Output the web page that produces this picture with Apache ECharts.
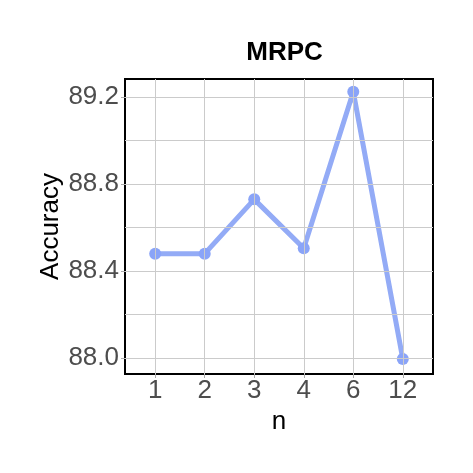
<!DOCTYPE html>
<html>
<head>
<meta charset="utf-8">
<script src="https://cdn.jsdelivr.net/npm/echarts@6/dist/echarts.min.js"></script>
<style>html,body{margin:0;padding:0;background:#fff}#c{width:473px;height:473px}</style>
</head>
<body>
<div id="c"></div>
<script>
const categories = ['1', '2', '3', '4', '6', '12'];
const accuracy = [88.48, 88.48, 88.73, 88.505, 89.225, 87.995];
const yTicks = [88.0, 88.4, 88.8, 89.2];
const yMinor = [88.2, 88.6, 89.0];
const title = 'MRPC';
const xName = 'n';
const yName = 'Accuracy';

const xPos = categories.map((c, i) => i + 1);
const points = accuracy.map((v, i) => [xPos[i], v]);
const gridColor = '#cbcbcb';
const tickFont = { color: '#4d4d4d', fontSize: 26, fontFamily: 'Liberation Sans, Arial, sans-serif' };

const chart = echarts.init(document.getElementById('c'), null, { renderer: 'canvas' });
chart.setOption({
  animation: false,
  backgroundColor: '#fff',
  title: {
    text: title, left: 279.5, top: 35, textAlign: 'center',
    textStyle: { fontSize: 26, fontWeight: 'bold', color: '#000', fontFamily: 'Liberation Sans, Arial, sans-serif' }
  },
  grid: { left: 125, top: 79, width: 308, height: 295, show: true, borderColor: '#000', borderWidth: 2, backgroundColor: 'transparent' },
  xAxis: {
    type: 'value', min: 0.39, max: 6.61,
    name: xName, nameLocation: 'middle', nameGap: 35, nameMoveOverlap: false,
    nameTextStyle: { fontSize: 26, color: '#000', fontFamily: 'Liberation Sans, Arial, sans-serif' },
    axisLine: { show: false },
    axisTick: { show: true, customValues: xPos, length: 4, lineStyle: { color: '#aaa' } },
    axisLabel: Object.assign({ customValues: xPos, margin: 4, formatter: v => categories[Math.round(v) - 1] }, tickFont),
    splitLine: { show: false }
  },
  yAxis: {
    type: 'value', min: 87.926, max: 89.284,
    name: yName, nameLocation: 'middle', nameGap: 61, nameRotate: 90, nameMoveOverlap: false,
    nameTextStyle: { fontSize: 26, color: '#000', fontFamily: 'Liberation Sans, Arial, sans-serif' },
    axisLine: { show: false },
    axisTick: { show: true, customValues: yTicks, length: 4, lineStyle: { color: '#aaa' } },
    axisLabel: Object.assign({ customValues: yTicks, margin: 6, formatter: v => v.toFixed(1) }, tickFont),
    splitLine: { show: false }
  },
  series: [
    {
      type: 'line', data: [], z: 1, silent: true,
      markLine: {
        silent: true, symbol: ['none', 'none'], label: { show: false },
        lineStyle: { color: gridColor, width: 1, type: 'solid' },
        emphasis: { disabled: true },
        data: yTicks.concat(yMinor).map(v => ({ yAxis: v })).concat(xPos.map(v => ({ xAxis: v })))
      }
    },
    {
      type: 'line', data: points, z: 3,
      symbol: 'circle', symbolSize: 12,
      lineStyle: { color: '#93abf6', width: 5 },
      itemStyle: { color: '#8aa4f8' },
      emphasis: { disabled: true }
    }
  ]
});
</script>
</body>
</html>
